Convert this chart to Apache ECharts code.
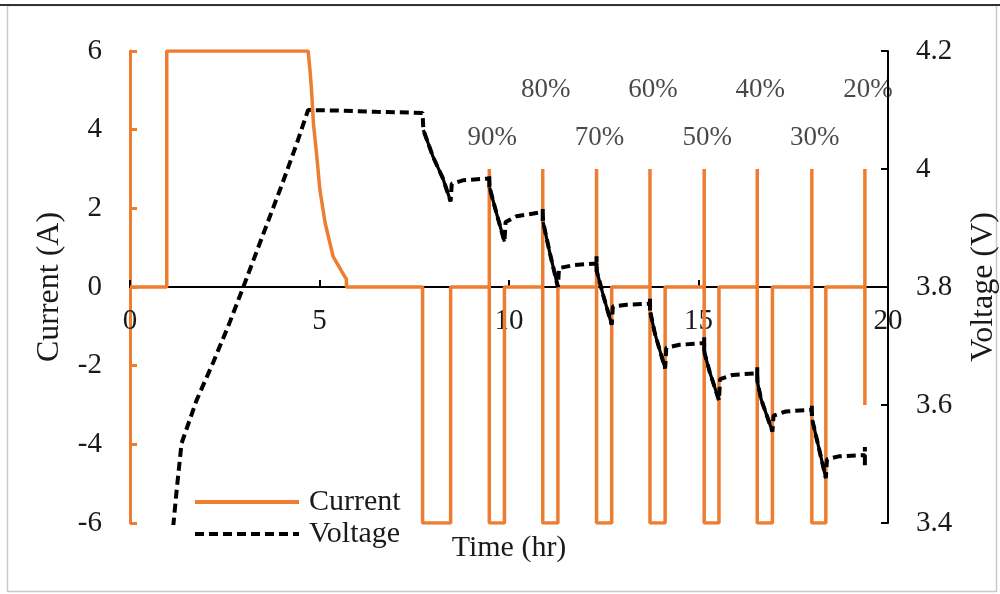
<!DOCTYPE html>
<html>
<head>
<meta charset="utf-8">
<script src="https://cdn.jsdelivr.net/npm/echarts@6/dist/echarts.min.js"></script>
<style>
  html, body { margin: 0; padding: 0; background: #fff; }
  #chart { width: 1000px; height: 594px; }
</style>
</head>
<body>
<div id="chart"></div>
<script>
// Charge step: constant current at 6 A, then constant-voltage taper to zero (hr, A)
const chargeCurrent = [
  [0, 0], [0.97, 0], [0.97, 6], [4.70, 6], [4.75, 5.5], [4.79, 5.0], [4.84, 4.16],
  [4.93, 3.31], [5.01, 2.47], [5.15, 1.62], [5.36, 0.77], [5.59, 0.39],
  [5.67, 0.26], [5.71, 0.2], [5.71, 0]
];

// Discharge steps at -6 A between SOC points (hr)
const dischargeStart = [7.72, 9.48, 10.89, 12.31, 13.72, 15.15, 16.55, 17.99];
const dischargeEnd   = [8.46, 9.88, 11.29, 12.71, 14.12, 15.54, 16.95, 18.36];
const dischargeAmps = -6;

// Short ±3 A characterisation pulses at each SOC point (hr)
const pulseTimes = [9.48, 10.89, 12.31, 13.72, 15.15, 16.55, 17.99, 19.39];
const pulseAmps = 3;
const socLabels = ['90%', '80%', '70%', '60%', '50%', '40%', '30%', '20%'];

// Cell terminal voltage (hr, V)
const voltage = [
  [1.14, 3.394], [1.23, 3.455], [1.36, 3.535], [1.75, 3.607], [2.20, 3.673], [2.60, 3.735],
  [2.99, 3.800], [3.50, 3.887], [4.00, 3.972], [4.40, 4.043], [4.70, 4.100],
  [5.50, 4.099], [6.50, 4.097], [7.72, 4.095],
  [7.74, 4.066], [8.00, 4.020], [8.25, 3.985], [8.46, 3.945],
  [8.49, 3.975], [8.80, 3.981], [9.48, 3.984],
  [9.48, 3.968], [9.48, 3.990], [9.48, 3.984],
  [9.49, 3.968], [9.67, 3.925], [9.88, 3.877],
  [9.91, 3.910], [10.20, 3.920], [10.89, 3.927],
  [10.89, 3.910], [10.89, 3.934], [10.89, 3.927],
  [10.90, 3.910], [11.08, 3.857], [11.29, 3.800],
  [11.32, 3.832], [11.70, 3.837], [12.31, 3.840],
  [12.31, 3.826], [12.31, 3.852], [12.31, 3.840],
  [12.32, 3.826], [12.49, 3.785], [12.71, 3.736],
  [12.74, 3.767], [13.10, 3.770], [13.72, 3.772],
  [13.72, 3.757], [13.72, 3.782], [13.72, 3.772],
  [13.73, 3.757], [13.85, 3.721], [14.12, 3.662],
  [14.15, 3.697], [14.50, 3.702], [15.15, 3.705],
  [15.15, 3.690], [15.15, 3.715], [15.15, 3.705],
  [15.16, 3.688], [15.30, 3.655], [15.54, 3.608],
  [15.57, 3.644], [15.90, 3.651], [16.55, 3.654],
  [16.55, 3.640], [16.55, 3.664], [16.55, 3.654],
  [16.56, 3.638], [16.65, 3.610], [16.95, 3.555],
  [16.98, 3.582], [17.30, 3.589], [17.99, 3.592],
  [17.99, 3.578], [17.99, 3.602], [17.99, 3.592],
  [18.00, 3.575], [18.10, 3.548], [18.36, 3.476],
  [18.39, 3.508], [18.70, 3.513], [19.39, 3.515],
  [19.39, 3.498], [19.39, 3.529], [19.39, 3.515]
];

const ORANGE = '#ED7D31';
const INK = '#1a1a1a';
const FONT = "'Liberation Serif', 'Times New Roman', serif";

// Plot box: the time axis runs through zero current, half way down the box
const GRID = { left: 130, right: 112, top: 51, bottom: 71 };
const PLOT_H = 594 - GRID.top - GRID.bottom;

// Assemble the current profile from the step tables
const current = chargeCurrent.slice();
current.push([dischargeStart[0], 0], [dischargeStart[0], dischargeAmps],
             [dischargeEnd[0], dischargeAmps], [dischargeEnd[0], 0]);
pulseTimes.forEach(function (tp) {
  current.push([tp, 0], [tp, -pulseAmps], [tp, 0], [tp, pulseAmps], [tp, 0]);
  const k = dischargeStart.indexOf(tp);
  if (k >= 0) {
    current.push([tp, dischargeAmps], [dischargeEnd[k], dischargeAmps], [dischargeEnd[k], 0]);
  }
});

// Voltage during each discharge step is drawn as a solid trace
const dischargeTraces = dischargeStart.map(function (s, i) {
  return {
    type: 'line', yAxisIndex: 1, symbol: 'none', silent: true, z: 4,
    data: voltage.filter(function (p) { return p[0] > s && p[0] <= dischargeEnd[i]; }),
    lineStyle: { color: '#000', width: 3.2 }
  };
});

// SOC annotations sit above each pulse, alternating between two rows
const socPoints = pulseTimes.map(function (tp, i) {
  return { name: socLabels[i], value: [tp, i % 2 === 0 ? 3.78 : 5.02] };
});

const fmt1 = function (v) { return String(Math.round(v * 10) / 10); };

const chart = echarts.init(document.getElementById('chart'), null, { renderer: 'canvas' });
chart.setOption({
  animation: false,
  backgroundColor: '#fff',
  textStyle: { fontFamily: FONT },
  grid: Object.assign({ containLabel: false, outerBoundsMode: 'none' }, GRID),
  graphic: [
    { type: 'rect', shape: { x: 7.5, y: 5.5, width: 989, height: 586 },
      style: { fill: 'none', stroke: '#c9c9c9', lineWidth: 1.5 }, silent: true },
    { type: 'line', shape: { x1: 0, y1: 5, x2: 1000, y2: 5 },
      style: { stroke: '#333', lineWidth: 2 }, silent: true }
  ],
  legend: {
    data: ['Current', 'Voltage'],
    orient: 'vertical',
    left: 193, top: 486,
    padding: 0,
    itemWidth: 104, itemHeight: 14, itemGap: 0,
    itemStyle: { opacity: 0 },
    lineStyle: { width: 4 },
    textStyle: { fontFamily: FONT, fontSize: 30, color: INK, lineHeight: 32, padding: [0, 0, 0, 5] }
  },
  xAxis: {
    type: 'value', min: 0, max: 20, interval: 5,
    position: 'bottom', offset: -PLOT_H / 2,
    name: 'Time (hr)', nameLocation: 'middle', nameGap: 246,
    nameTextStyle: { fontFamily: FONT, fontSize: 30, color: INK },
    axisLine: { onZero: false, lineStyle: { color: '#000', width: 2 } },
    axisTick: { inside: true, length: 7, lineStyle: { color: '#000', width: 2 } },
    axisLabel: { fontFamily: FONT, fontSize: 29, color: INK, margin: 20, showMinLabel: true, showMaxLabel: true },
    splitLine: { show: false }
  },
  yAxis: [
    {
      type: 'value', min: -6, max: 6, interval: 2, position: 'left',
      name: 'Current (A)', nameLocation: 'middle', nameGap: 64, nameRotate: 90,
      nameTextStyle: { fontFamily: FONT, fontSize: 32, color: INK },
      axisLine: { show: true, lineStyle: { color: ORANGE, width: 3 } },
      axisTick: { show: true, inside: true, length: 7, lineStyle: { color: ORANGE, width: 3 } },
      axisLabel: { fontFamily: FONT, fontSize: 29, color: INK, margin: 28 },
      splitLine: { show: false }
    },
    {
      type: 'value', min: 3.4, max: 4.2, interval: 0.2, position: 'right',
      name: 'Voltage (V)', nameLocation: 'middle', nameGap: 80, nameRotate: 90,
      nameTextStyle: { fontFamily: FONT, fontSize: 32, color: INK },
      axisLine: { show: true, lineStyle: { color: '#000', width: 2 } },
      axisTick: { show: true, inside: true, length: 7, lineStyle: { color: '#000', width: 2 } },
      axisLabel: { fontFamily: FONT, fontSize: 29, color: INK, margin: 28, formatter: fmt1 },
      splitLine: { show: false }
    }
  ],
  series: [
    {
      name: 'Current', type: 'line', yAxisIndex: 0, symbol: 'none', z: 2,
      data: current,
      lineStyle: { color: ORANGE, width: 3.5 },
      itemStyle: { color: ORANGE }
    },
    {
      name: 'Voltage', type: 'line', yAxisIndex: 1, symbol: 'none', z: 3,
      data: voltage,
      lineStyle: { color: '#000', width: 4, type: [9, 5], cap: 'butt' },
      itemStyle: { color: '#000' }
    }
  ].concat(dischargeTraces).concat([
    {
      type: 'scatter', yAxisIndex: 0, symbolSize: 0, silent: true, z: 5,
      data: socPoints,
      label: {
        show: true, position: 'inside', offset: [3, 0],
        formatter: function (p) { return p.name; },
        fontFamily: FONT, fontSize: 27, color: INK
      }
    }
  ])
});
</script>
</body>
</html>
